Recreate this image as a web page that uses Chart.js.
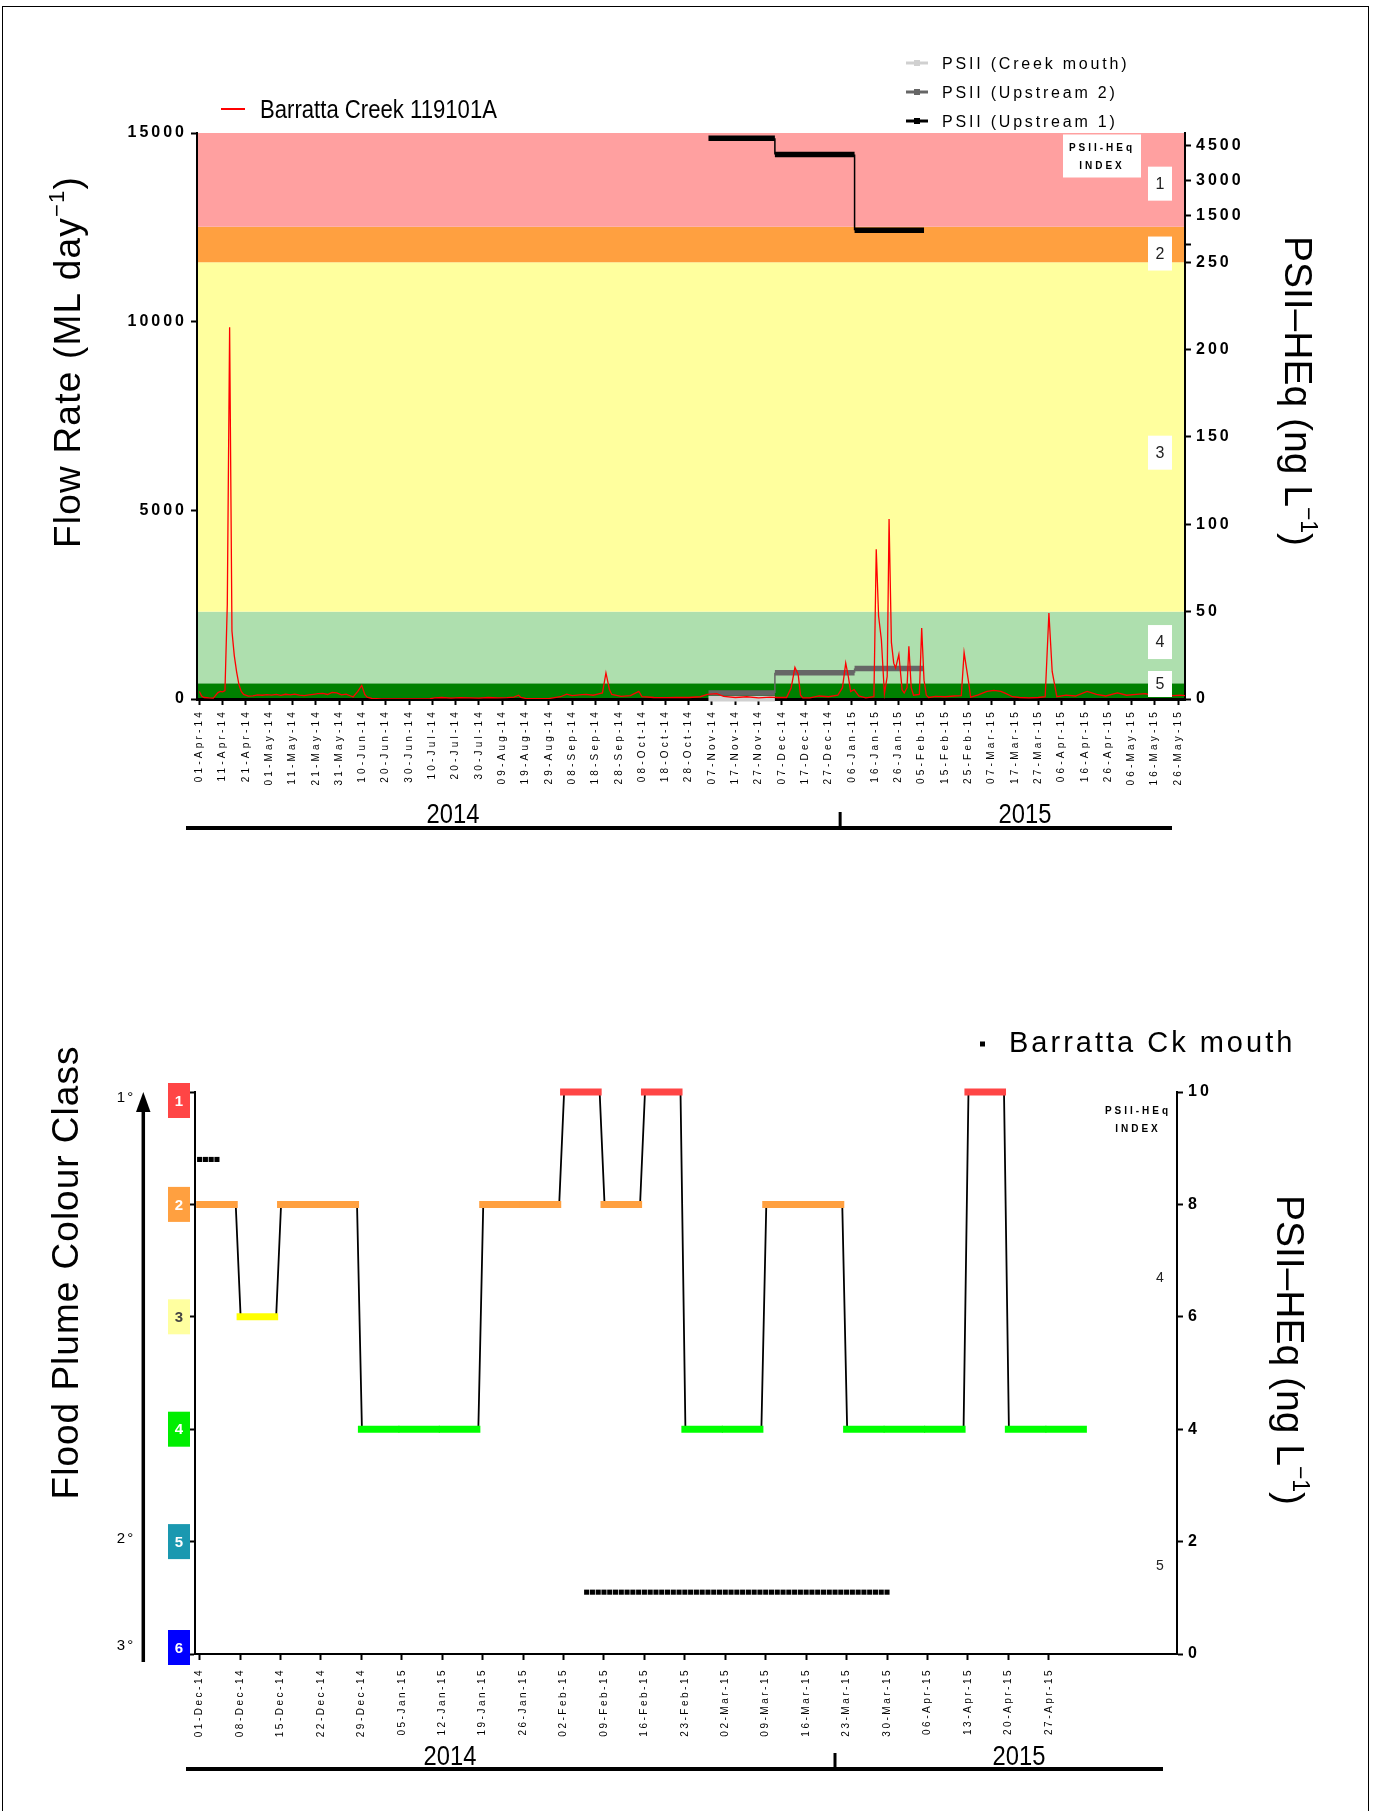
<!DOCTYPE html>
<html>
<head>
<meta charset="utf-8">
<script src="https://cdn.jsdelivr.net/npm/chart.js@4.4.1/dist/chart.umd.min.js"></script>
<style>
  html, body { margin: 0; padding: 0; background: #fff; }
  body { width: 1373px; height: 1811px; position: relative; overflow: hidden; }
  #frame { position: absolute; left: 2px; top: 6px; width: 1367px; height: 1840px; border: 1.5px solid #000; box-sizing: border-box; }
  .wrap { position: absolute; left: 0; width: 1373px; }
  #topWrap { top: 0; height: 900px; }
  #botWrap { top: 900px; height: 911px; }
</style>
</head>
<body>
<div id="frame"></div>
<div class="wrap" id="topWrap"><canvas id="topChart"></canvas></div>
<div class="wrap" id="botWrap"><canvas id="botChart"></canvas></div>
<script>
// ---------- Data: top panel (days counted from 01-Apr-2014) ----------
const topTickLabels = ['01-Apr-14','11-Apr-14','21-Apr-14','01-May-14','11-May-14','21-May-14','31-May-14',
  '10-Jun-14','20-Jun-14','30-Jun-14','10-Jul-14','20-Jul-14','30-Jul-14','09-Aug-14','19-Aug-14','29-Aug-14',
  '08-Sep-14','18-Sep-14','28-Sep-14','08-Oct-14','18-Oct-14','28-Oct-14','07-Nov-14','17-Nov-14','27-Nov-14',
  '07-Dec-14','17-Dec-14','27-Dec-14','06-Jan-15','16-Jan-15','26-Jan-15','05-Feb-15','15-Feb-15','25-Feb-15',
  '07-Mar-15','17-Mar-15','27-Mar-15','06-Apr-15','16-Apr-15','26-Apr-15','06-May-15','16-May-15','26-May-15'];
const flowTicks = [0, 5000, 10000, 15000];
const psiiTicks = [0, 50, 100, 150, 200, 250, 1500, 3000, 4500];

// Barratta Creek 119101A flow (ML/day)
const flowDays = [0,1,2,4,6,8,9,10,11,12,13,14,15,16,17,18,19,21,23,25,27,29,31,33,35,37,39,41,43,45,47,49,51,53,55,57,59,61,63,65,66,68,69.7,71,72,74,
  78,85,95,99,101,104,108,112,116,120,124,128,132,135,137,138,140,145,150,155,157.7,160,163,166,169,171,173,174.5,176,177,
  181,185,188.6,190,195,200,205,210,215,218,222,225,230,235,240,245,248,252,254,255.6,257,258,259,262,266,270,274,276,277.4,278.5,279.5,
  281,283,286,289.5,290.5,291.5,292.7,294,295.2,296,297,298,298.8,300.2,301.6,302.5,303.7,304.5,305.5,306.5,309,310,311,312,313,
  316,320,324,327,328.2,330.1,331,334,338,341,344,346,349,352,356,360,363,364.6,366,368,372,376,381,385,389,394,398,402,406,410,414,418,421,423];
const flowValues = [200,80,40,30,25,170,200,190,220,2500,9850,1800,1150,720,380,200,120,75,85,110,100,115,105,120,95,125,110,130,100,90,110,125,140,150,120,175,160,110,130,80,55,200,360,120,50,15,
  5,2,3,8,30,40,25,35,30,25,40,30,35,50,100,40,15,10,12,60,130,90,110,120,100,130,160,690,250,120,
  70,90,200,60,40,35,45,40,60,120,140,70,40,60,30,50,40,40,300,840,650,100,30,30,80,60,100,300,950,600,200,
  250,80,30,60,3970,2200,1570,140,600,4770,1500,950,820,1180,245,160,300,1400,300,100,120,1880,500,100,40,
  70,60,80,90,1230,460,50,100,200,230,200,150,60,40,30,40,60,2280,730,60,100,80,200,120,80,160,100,120,140,70,110,90,100,90];

// PSII-HEq (ng/L) step series, sampling periods bounded by these days
const psiiPeriods = [218.5, 247, 281.2, 311];
const psiiUpstream1 = [4800, 4100, 855];
const psiiUpstream2 = [3.4, 15, 17.5];
const psiiCreekMouth = [0.2];
// PSII-HEq index zones (ng/L): 5, 4, 3, 2, 1
const indexEdges = [0, 9, 50, 250, 1000];

// ---------- Data: bottom panel (days counted from 01-Dec-2014) ----------
const botTickLabels = ['01-Dec-14','08-Dec-14','15-Dec-14','22-Dec-14','29-Dec-14','05-Jan-15','12-Jan-15','19-Jan-15',
  '26-Jan-15','02-Feb-15','09-Feb-15','16-Feb-15','23-Feb-15','02-Mar-15','09-Mar-15','16-Mar-15','23-Mar-15',
  '30-Mar-15','06-Apr-15','13-Apr-15','20-Apr-15','27-Apr-15'];
const weekStarts = [0,7,14,21,28,35,42,49,56,63,70,77,84,91,98,105,112,119,126,133,140,147];
const plumeClass = [2,3,2,2,4,4,4,2,2,1,2,1,4,4,2,2,4,4,4,1,4,4];
const mouthDays = [0,1,2,3,67,68,69,70,71,72,73,74,75,76,77,78,79,80,81,82,83,84,85,86,87,88,89,90,91,92,93,
  94,95,96,97,98,99,100,101,102,103,104,105,106,107,108,109,110,111,112,113,114,115,116,117,118,119];
const mouthPsii = [8.8,8.8,8.8,8.8,1.1,1.1,1.1,1.1,1.1,1.1,1.1,1.1,1.1,1.1,1.1,1.1,1.1,1.1,1.1,1.1,1.1,1.1,1.1,1.1,1.1,
  1.1,1.1,1.1,1.1,1.1,1.1,1.1,1.1,1.1,1.1,1.1,1.1,1.1,1.1,1.1,1.1,1.1,1.1,1.1,1.1,1.1,1.1,1.1,1.1,1.1,1.1,1.1,1.1,1.1,1.1,1.1,1.1];
const psiiBotTicks = [0, 2, 4, 6, 8, 10];

// ---------- Styling ----------
const FONT = '"Liberation Sans", Arial, Helvetica, sans-serif';
Chart.defaults.font.family = FONT;
Chart.defaults.color = '#000';
const BAND_COLORS = ['#008000', '#aedfae', '#ffff9e', '#ffa040', '#ffa0a0'];
const CLASS_COLORS = { 1: '#ff4545', 2: '#ffa040', 3: '#ffff00', 4: '#00ff00' };
const BOX_COLORS = ['#ff4545', '#ffa040', '#ffffa0', '#00ee00', '#1a98b0', '#0000ff'];

// broken right axis: 0-250 linear, above the break 75 ng/L per unit
function psiiPos(v) { return v <= 250 ? v : 257 + v / 75; }
const BREAK_POS = 260;

function txt(ctx, s, x, y, o) {
  ctx.save();
  ctx.font = (o.weight || 'normal') + ' ' + o.size + 'px ' + FONT;
  ctx.letterSpacing = (o.spacing || 0) + 'px';
  ctx.fillStyle = o.color || '#000';
  ctx.textAlign = o.align || 'left';
  ctx.textBaseline = o.baseline || 'alphabetic';
  ctx.translate(x, y);
  if (o.angle) ctx.rotate(o.angle);
  if (o.squeeze) ctx.scale(o.squeeze, 1);
  ctx.fillText(s, 0, 0);
  ctx.restore();
}

// axis title with a superscript "-1"
function supTitle(ctx, x, y, angle, size, spacing, main, sup, tail) {
  ctx.save();
  ctx.translate(x, y);
  ctx.rotate(angle);
  ctx.letterSpacing = spacing + 'px';
  ctx.fillStyle = '#000';
  ctx.textBaseline = 'alphabetic';
  ctx.textAlign = 'left';
  const big = size + 'px ' + FONT, small = Math.round(size * 0.6) + 'px ' + FONT;
  ctx.font = big; const w1 = ctx.measureText(main).width; const w3 = ctx.measureText(tail).width;
  ctx.font = small; const w2 = ctx.measureText(sup).width;
  let cx = -(w1 + w2 + w3) / 2;
  ctx.font = big; ctx.fillText(main, cx, 0); cx += w1;
  ctx.font = small; ctx.fillText(sup, cx, -size * 0.42); cx += w2;
  ctx.font = big; ctx.fillText(tail, cx, 0);
  ctx.restore();
}

function yearBar(ctx, x0, x1, y, tickX, textY, x2014, x2015) {
  ctx.save();
  ctx.strokeStyle = '#000';
  ctx.lineWidth = 4;
  ctx.beginPath(); ctx.moveTo(x0, y); ctx.lineTo(x1, y); ctx.stroke();
  ctx.lineWidth = 3;
  ctx.beginPath(); ctx.moveTo(tickX, y - 16); ctx.lineTo(tickX, y); ctx.stroke();
  ctx.restore();
  txt(ctx, '2014', x2014, textY, { size: 27, align: 'center', baseline: 'middle', squeeze: 0.88 });
  txt(ctx, '2015', x2015, textY, { size: 27, align: 'center', baseline: 'middle', squeeze: 0.88 });
}

// letter-spaced tick labels, per scale
const spacingPlugin = {
  id: 'spacing',
  beforeDraw(chart, args, opts) {
    Object.values(chart.scales).forEach(s => {
      const sp = opts[s.id];
      if (!sp || s._spaced) return;
      const orig = s.drawLabels;
      s.drawLabels = function (area) {
        const c = this.ctx; c.save(); c.letterSpacing = sp; orig.call(this, area); c.restore();
      };
      s._spaced = true;
    });
  }
};

function stepData(vals) {
  const out = [];
  vals.forEach((v, i) => {
    out.push({ x: psiiPeriods[i], y: psiiPos(v) }, { x: psiiPeriods[i + 1], y: psiiPos(v) });
  });
  return out;
}
const stepSegment = { borderWidth: c => (c.p0.parsed.x === c.p1.parsed.x ? 1.5 : 5.5) };

// ---------- Top chart ----------
const topDeco = {
  id: 'topDeco',
  beforeDraw(chart) {
    const { ctx, chartArea: a, scales: { y2 } } = chart;
    ctx.save();
    for (let i = 0; i < BAND_COLORS.length; i++) {
      const yb = y2.getPixelForValue(psiiPos(indexEdges[i]));
      const yt = i + 1 < indexEdges.length ? y2.getPixelForValue(psiiPos(indexEdges[i + 1])) : a.top;
      ctx.fillStyle = BAND_COLORS[i];
      ctx.fillRect(a.left, yt, a.right - a.left, yb - yt);
    }
    ctx.restore();
  },
  afterDraw(chart) {
    const { ctx, chartArea: a, scales: { x, y2 } } = chart;
    // index label boxes
    ctx.save();
    ctx.fillStyle = '#fff';
    ctx.fillRect(1063, 134.5, 78, 43);
    ctx.restore();
    txt(ctx, 'PSII-HEq', 1102, 148, { size: 10, weight: 'bold', spacing: 3, align: 'center', baseline: 'middle' });
    txt(ctx, 'INDEX', 1102, 166, { size: 10, weight: 'bold', spacing: 3, align: 'center', baseline: 'middle' });
    const boxPos = [295, 255, 141, 32.6, 6.5];
    boxPos.forEach((p, i) => {
      const cy = y2.getPixelForValue(p);
      let top = cy - 17, bot = cy + 17;
      if (bot > a.bottom - 2) { bot = a.bottom - 2; top = bot - 26; }
      ctx.save(); ctx.fillStyle = '#fff'; ctx.fillRect(1148, top, 24, bot - top); ctx.restore();
      txt(ctx, String(i + 1), 1160, (top + bot) / 2 + 1, { size: 16, color: '#222', align: 'center', baseline: 'middle' });
    });
    // legends
    ctx.save();
    ctx.strokeStyle = '#ff0000'; ctx.lineWidth = 2;
    ctx.beginPath(); ctx.moveTo(221, 109); ctx.lineTo(245, 109); ctx.stroke();
    ctx.restore();
    txt(ctx, 'Barratta Creek 119101A', 260, 118, { size: 25, squeeze: 0.885 });
    const leg = [['PSII (Creek mouth)', '#d0d0d0', 63], ['PSII (Upstream 2)', '#666666', 92], ['PSII (Upstream 1)', '#000000', 121]];
    leg.forEach(([label, col, ly]) => {
      ctx.save();
      ctx.strokeStyle = col; ctx.lineWidth = 3;
      ctx.beginPath(); ctx.moveTo(906, ly); ctx.lineTo(928, ly); ctx.stroke();
      ctx.fillStyle = col; ctx.fillRect(914, ly - 3, 6, 6);
      ctx.restore();
      txt(ctx, label, 942, ly + 6, { size: 16, spacing: 2.8 });
    });
    // axis titles
    supTitle(ctx, 80, 362, -Math.PI / 2, 37, 1.2, 'Flow Rate (ML day', '\u22121', ')');
    supTitle(ctx, 1285, 391, Math.PI / 2, 39, 0, 'PSII\u2013HEq (ng L', '\u22121', ')');
    // year bar
    yearBar(ctx, 186, 1172, 828, x.getPixelForValue(275), 816, 453, 1025);
  }
};

new Chart(document.getElementById('topChart'), {
  type: 'line',
  data: {
    datasets: [
      { label: 'Barratta Creek 119101A', yAxisID: 'y', borderColor: '#ff0000', borderWidth: 1.3,
        data: flowDays.map((d, i) => ({ x: d, y: flowValues[i] })) },
      { label: 'PSII (Upstream 1)', yAxisID: 'y2', borderColor: '#000000', clip: false,
        data: stepData(psiiUpstream1), segment: stepSegment },
      { label: 'PSII (Upstream 2)', yAxisID: 'y2', borderColor: '#666666', clip: false,
        data: stepData(psiiUpstream2), segment: stepSegment },
      { label: 'PSII (Creek mouth)', yAxisID: 'y2', borderColor: '#d0d0d0', clip: false,
        data: stepData(psiiCreekMouth), segment: stepSegment }
    ]
  },
  options: {
    responsive: true,
    maintainAspectRatio: false,
    animation: false,
    devicePixelRatio: 1,
    layout: { padding: { top: 133 } },
    elements: { point: { radius: 0 }, line: { tension: 0, borderCapStyle: 'butt' } },
    plugins: { legend: { display: false }, tooltip: { enabled: false },
      spacing: { x: '3.2px', y: '3px', y2: '3px' } },
    scales: {
      x: {
        type: 'linear', min: -1, max: 423,
        afterFit: s => { s.height = 201; },
        afterBuildTicks: s => { s.ticks = topTickLabels.map((_, i) => ({ value: i * 10 })); },
        ticks: { autoSkip: false, minRotation: 90, maxRotation: 90, padding: 4, font: { size: 10 },
          callback: v => topTickLabels[Math.round(v / 10)] },
        grid: { drawOnChartArea: false, drawTicks: true, tickLength: 6, tickWidth: 2, tickColor: '#000' },
        border: { display: true, color: '#000', width: 3 }
      },
      y: {
        position: 'left', min: 0, max: 15000,
        afterFit: s => { s.width = 197; },
        afterBuildTicks: s => { s.ticks = flowTicks.map(v => ({ value: v })); },
        ticks: { padding: 4, font: { size: 16, weight: 'bold' }, callback: v => String(v) },
        grid: { drawOnChartArea: false, tickLength: 6, tickWidth: 2, tickColor: '#000' },
        border: { color: '#000', width: 2 }
      },
      y2: {
        position: 'right', min: 0, max: 324,
        afterFit: s => { s.width = 188; },
        afterBuildTicks: s => {
          const t = psiiTicks.map(v => ({ value: psiiPos(v) }));
          t.push({ value: BREAK_POS });
          t.sort((p, q) => p.value - q.value);
          s.ticks = t;
        },
        ticks: { padding: 5, font: { size: 16, weight: 'bold' },
          callback: v => { const k = psiiTicks.find(t => Math.abs(psiiPos(t) - v) < 0.01); return k === undefined ? '' : String(k); } },
        grid: { drawOnChartArea: false, tickLength: 6, tickWidth: 2, tickColor: '#000' },
        border: { color: '#000', width: 2 }
      }
    }
  },
  plugins: [spacingPlugin, topDeco]
});

// ---------- Bottom chart ----------
const thickData = [];
const connData = [];
weekStarts.forEach((s, i) => {
  thickData.push({ x: s - 0.6, y: plumeClass[i] }, { x: s + 6.6, y: plumeClass[i] }, { x: s + 6.6, y: null });
  connData.push({ x: s + 0.1, y: plumeClass[i] }, { x: s + 6.25, y: plumeClass[i] });
});

const botDeco = {
  id: 'botDeco',
  afterDraw(chart) {
    const { ctx, scales: { y, y2 } } = chart;
    // colour class boxes
    for (let k = 1; k <= 6; k++) {
      let cy = y.getPixelForValue(k);
      cy = Math.min(Math.max(cy, 183 + 17.5), 765 - 17.5);
      ctx.save(); ctx.fillStyle = BOX_COLORS[k - 1]; ctx.fillRect(168, cy - 17.5, 22, 35); ctx.restore();
      txt(ctx, String(k), 179, cy + 1, { size: 15, weight: 'bold', color: k === 3 ? '#444' : '#fff', align: 'center', baseline: 'middle' });
    }
    // arrow
    ctx.save();
    ctx.strokeStyle = '#000'; ctx.fillStyle = '#000'; ctx.lineWidth = 3.5;
    ctx.beginPath(); ctx.moveTo(143.3, 762); ctx.lineTo(143.3, 208); ctx.stroke();
    ctx.beginPath(); ctx.moveTo(143.3, 192); ctx.lineTo(150.5, 212); ctx.lineTo(136, 212); ctx.closePath(); ctx.fill();
    ctx.restore();
    txt(ctx, '1\u00b0', 126, 198, { size: 15, spacing: 2, align: 'center', baseline: 'middle' });
    txt(ctx, '2\u00b0', 126, 639, { size: 15, spacing: 2, align: 'center', baseline: 'middle' });
    txt(ctx, '3\u00b0', 126, 746, { size: 15, spacing: 2, align: 'center', baseline: 'middle' });
    // legend
    ctx.save(); ctx.fillStyle = '#000'; ctx.fillRect(980, 141.5, 5, 5); ctx.restore();
    txt(ctx, 'Barratta Ck mouth', 1009, 152, { size: 29, spacing: 3 });
    // index notes
    txt(ctx, 'PSII-HEq', 1138, 211, { size: 10, weight: 'bold', spacing: 3, align: 'center', baseline: 'middle' });
    txt(ctx, 'INDEX', 1138, 229, { size: 10, weight: 'bold', spacing: 3, align: 'center', baseline: 'middle' });
    txt(ctx, '4', 1160, y2.getPixelForValue(6.68), { size: 14, color: '#222', align: 'center', baseline: 'middle' });
    txt(ctx, '5', 1160, y2.getPixelForValue(1.56), { size: 14, color: '#222', align: 'center', baseline: 'middle' });
    // titles
    txt(ctx, 'Flood Plume Colour Class', 77.5, 372.5, { size: 37, spacing: 1, align: 'center', angle: -Math.PI / 2 });
    supTitle(ctx, 1277, 450, Math.PI / 2, 39, 0, 'PSII\u2013HEq (ng L', '\u22121', ')');
    yearBar(ctx, 186, 1163, 869, 835, 858, 450, 1019);
  }
};

new Chart(document.getElementById('botChart'), {
  type: 'line',
  data: {
    datasets: [
      { label: 'Flood plume colour class', yAxisID: 'y', data: thickData, borderWidth: 7, clip: false, spanGaps: false,
        segment: { borderColor: c => CLASS_COLORS[c.p0.parsed.y] || '#000' } },
      { label: 'Class change', yAxisID: 'y', data: connData, borderColor: '#000', borderWidth: 1.8, clip: false },
      { label: 'Barratta Ck mouth', yAxisID: 'y2', showLine: false, clip: false,
        data: mouthDays.map((d, i) => ({ x: d, y: mouthPsii[i] })),
        pointStyle: 'rect', pointRadius: 3.6, pointBorderWidth: 0, pointBackgroundColor: '#000', borderColor: '#000' }
    ]
  },
  options: {
    responsive: true,
    maintainAspectRatio: false,
    animation: false,
    devicePixelRatio: 1,
    layout: { padding: { top: 192 } },
    elements: { point: { radius: 0 }, line: { tension: 0, borderCapStyle: 'butt' } },
    plugins: { legend: { display: false }, tooltip: { enabled: false },
      spacing: { x: '2.5px', y2: '3px' } },
    scales: {
      x: {
        type: 'linear', min: -0.8, max: 169.2,
        afterFit: s => { s.height = 157; },
        afterBuildTicks: s => { s.ticks = botTickLabels.map((_, i) => ({ value: i * 7 })); },
        ticks: { autoSkip: false, minRotation: 90, maxRotation: 90, padding: 8, font: { size: 10 },
          callback: v => botTickLabels[Math.round(v / 7)] },
        grid: { drawOnChartArea: false, drawTicks: true, tickLength: 6, tickWidth: 2, tickColor: '#000' },
        border: { display: true, color: '#000', width: 2 }
      },
      y: {
        position: 'left', reverse: true, min: 1, max: 6,
        afterFit: s => { s.width = 195; },
        afterBuildTicks: s => { s.ticks = [1, 2, 3, 4, 5, 6].map(v => ({ value: v })); },
        ticks: { callback: () => '' },
        grid: { drawOnChartArea: false, tickLength: 6, tickWidth: 2, tickColor: '#000' },
        border: { color: '#000', width: 2 }
      },
      y2: {
        position: 'right', min: 0, max: 10,
        afterFit: s => { s.width = 196; },
        afterBuildTicks: s => { s.ticks = psiiBotTicks.map(v => ({ value: v })); },
        ticks: { padding: 5, font: { size: 16, weight: 'bold' }, callback: v => String(v) },
        grid: { drawOnChartArea: false, tickLength: 6, tickWidth: 2, tickColor: '#000' },
        border: { color: '#000', width: 2 }
      }
    }
  },
  plugins: [spacingPlugin, botDeco]
});
</script>
</body>
</html>
